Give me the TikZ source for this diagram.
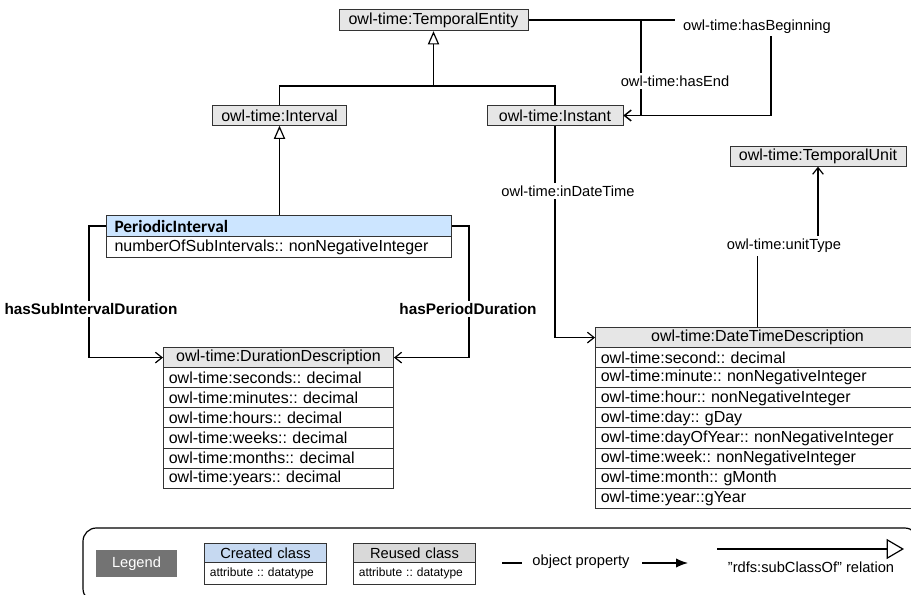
\documentclass[tikz,border=0pt]{standalone}
\usepackage{fontspec}
\setmainfont{Liberation Sans}
\newfontfamily\calibrifont{Carlito}
\usepackage{tikz}
\usetikzlibrary{arrows.meta}
\frenchspacing

\definecolor{reusedgray}{HTML}{E6E6E6}
\definecolor{legendgray}{HTML}{D9D9D9}
\definecolor{createdblue}{HTML}{CCE5FF}
\definecolor{legendblue}{HTML}{C6D9F1}
\definecolor{boxline}{HTML}{333333}

\tikzset{
  reused/.style={draw=boxline, fill=reusedgray, line width=.75pt, inner xsep=5pt, inner ysep=0pt, minimum height=14.5pt, font=\fontsize{12}{14}\selectfont},
  attrrow/.style={draw=boxline, fill=white, line width=.75pt, inner xsep=4pt, inner ysep=0pt, minimum height=15.1pt, text width=#1, align=left, anchor=north west, font=\fontsize{12}{14}\selectfont},
  headrow/.style={attrrow=#1, fill=reusedgray, align=center},
  proplabel/.style={fill=white, inner xsep=3pt, inner ysep=2pt, font=\fontsize{11}{13}\selectfont},
  boldlabel/.style={proplabel, font=\fontsize{11.5}{13}\selectfont\bfseries},
  objprop/.style={line width=.9pt, -{Straight Barb[length=5pt,width=8pt]}},
  subcls/.style={line width=.9pt, -{Triangle[open,length=10pt,width=8.5pt,fill=white]}},
  legendtext/.style={font=\fontsize{11}{13}\selectfont},
}

\begin{document}
\begin{tikzpicture}[x=.75pt,y=-.75pt]
\useasboundingbox (0,0) rectangle (911,595);
\clip (0,0) rectangle (911,595);

% reused owl-time classes
\node[reused, minimum width=141.75pt, minimum height=16pt] (entity) at (433.5,20) {owl-time:TemporalEntity};
\node[reused, minimum width=101pt] (interval) at (279.5,115.5) {owl-time:Interval};
\node[reused, minimum width=102pt] (instant) at (555,115.5) {owl-time:Instant};
\node[reused, minimum width=132pt] (unit) at (818,156.5) {owl-time:TemporalUnit};

% created class
\node[headrow=246.75pt, inner xsep=6pt, minimum height=15.75pt, fill=createdblue, align=left,
      font=\fontsize{13}{15}\selectfont\calibrifont\bfseries] (pi0) at (106,215) {PeriodicInterval};
\node[attrrow=246.75pt, inner xsep=6pt, minimum height=15.75pt] (pi1) at (106,236) {numberOfSubIntervals:: nonNegativeInteger};

% duration description
\node[headrow=164.5pt] (dur0) at (163,347) {owl-time:DurationDescription};
\foreach \t [count=\i] in {seconds,minutes,hours,weeks,months,years}
  \node[attrrow=164.5pt] (dur\i) at (163,{347+\i*20.1}) {owl-time:\t:: decimal};

% date time description
\node[headrow=235pt] (dtd0) at (595,327) {owl-time:DateTimeDescription};
\foreach \t [count=\i] in {second:: decimal,minute:: nonNegativeInteger,hour:: nonNegativeInteger,day:: gDay,dayOfYear:: nonNegativeInteger,week:: nonNegativeInteger,month:: gMonth,year::gYear}
  \node[attrrow=235pt] (dtd\i) at (595,{327+\i*20.1}) {owl-time:\t};

% subclass relations
\coordinate (split) at (433.5,86);
\draw[line width=.9pt] (interval.north) |- (split) -| (instant.north);
\draw[subcls] (split) -- (entity.south);
\draw[subcls] (pi0.north -| interval.south) -- (interval.south);

% object properties
\coordinate (endc) at (641,20);
\coordinate (begc) at (771,20);
\draw[objprop] (entity.east) -- (begc) |- (instant.east);
\draw[objprop] (entity.east) -- (endc) |- (instant.east);
\node[proplabel, inner xsep=6pt] (begl) at (757,27) {owl-time:hasBeginning};
\node[proplabel] (endl) at (675,81) {owl-time:hasEnd};

\draw[objprop] (instant.south) |- (dtd0.west);
\node[proplabel] (dtl) at (568,191) {owl-time:inDateTime};

\coordinate (unitc) at (757,246);
\draw[objprop] (dtd0.north) |- (unitc) -| (unit.south);
\node[proplabel] (utl) at (784,246) {owl-time:unitType};

\draw[objprop] (pi0.west) -- ++(-17,0) |- (dur0.west);
\draw[objprop] (pi0.east) -- ++(17,0) |- (dur0.east);
\node[boldlabel] (subl) at (91,309) {hasSubIntervalDuration};
\node[boldlabel] (perl) at (468,309) {hasPeriodDuration};

% legend
\draw[line width=.9pt, rounded corners=10pt] (83,528) rectangle (918,602);
\node[fill=black!55, text=white, minimum width=60.75pt, minimum height=20pt, legendtext] (legend) at (136.5,563.5) {Legend};
\node[headrow=83.5pt, fill=legendblue, minimum height=14.25pt, legendtext] (created) at (204,543) {Created class};
\node[attrrow=83.5pt, minimum height=16.5pt, font=\fontsize{9}{11}\selectfont] (createdattr) at (204,562) {attribute :: datatype};
\node[headrow=83.5pt, fill=legendgray, minimum height=14.25pt, legendtext] (reusedc) at (353,543) {Reused class};
\node[attrrow=83.5pt, minimum height=16.5pt, font=\fontsize{9}{11}\selectfont] (reusedattr) at (353,562) {attribute :: datatype};

\coordinate (opa) at (502,563);
\coordinate (opb) at (522,563);
\draw[line width=.9pt] (opa) -- (opb);
\node[legendtext] (optext) at (581,562) {object property};
\coordinate (arra) at (642,563);
\coordinate (arrb) at (688,563);
\draw[line width=.9pt, -{Latex[length=9pt,width=7pt]}] (arra) -- (arrb);

\coordinate (sca) at (717,549);
\coordinate (scb) at (904,549);
\draw[line width=.9pt, -{Triangle[open,length=13pt,width=15pt,fill=white]}] (sca) -- (scb);
\node[legendtext] (sctext) at (811,567) {"rdfs:subClassOf" relation};
\end{tikzpicture}
\end{document}
